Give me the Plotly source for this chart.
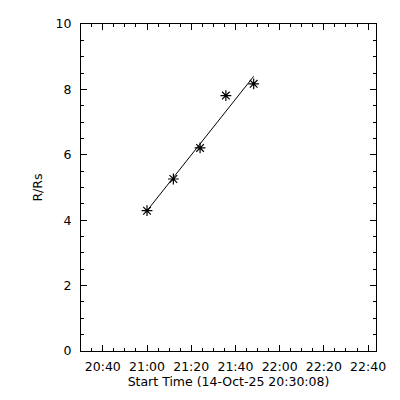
import plotly.graph_objects as go

times = ["2025-10-14 21:00:00", "2025-10-14 21:11:55", "2025-10-14 21:24:00",
         "2025-10-14 21:35:40", "2025-10-14 21:48:15"]
radii = [4.29, 5.26, 6.21, 7.81, 8.17]

fit_times = ["2025-10-14 21:00:00", "2025-10-14 21:48:15"]
fit_radii = [4.29, 8.40]

x_range = ["2025-10-14 20:30:08", "2025-10-14 22:43:35"]
x_title = "Start Time (14-Oct-25 20:30:08)"
y_title = "R/Rs"

font = dict(family="DejaVu Sans", size=12.5, color="black")

fig = go.Figure()
fig.add_trace(go.Scatter(x=fit_times, y=fit_radii, mode="lines",
                         line=dict(color="black", width=1), showlegend=False))
fig.add_trace(go.Scatter(x=times, y=radii, mode="markers",
                         marker=dict(symbol="asterisk-open", size=9, color="black",
                                     line=dict(color="black", width=1.2)),
                         showlegend=False))

# the page body adds an 8px offset, so margins are compensated
fig.update_layout(
    width=400, height=400,
    margin=dict(l=73, r=32, t=16, b=57, autoexpand=False),
    paper_bgcolor="white", plot_bgcolor="white",
    font=font,
    xaxis=dict(
        type="date", range=x_range, automargin=False,
        tick0="2025-10-14 20:40:00", dtick=20 * 60 * 1000,
        tickformat="%H:%M",
        ticks="inside", ticklen=6, tickcolor="black", tickwidth=1,
        minor=dict(dtick=5 * 60 * 1000, ticks="inside", ticklen=3,
                   tickcolor="black", tickwidth=1, showgrid=False),
        showline=True, linecolor="black", linewidth=1, mirror="allticks",
        showgrid=False, zeroline=False,
        title=dict(text=x_title, standoff=2, font=font),
        ticklabelstandoff=4,
    ),
    yaxis=dict(
        range=[0, 10], tick0=0, dtick=2, automargin=False,
        ticks="inside", ticklen=6, tickcolor="black", tickwidth=1,
        minor=dict(dtick=0.5, ticks="inside", ticklen=3,
                   tickcolor="black", tickwidth=1, showgrid=False),
        showline=True, linecolor="black", linewidth=1, mirror="allticks",
        showgrid=False, zeroline=False,
        title=dict(text=y_title, standoff=10, font=font),
        ticklabelstandoff=6,
    ),
)

fig.write_html("out.html")
